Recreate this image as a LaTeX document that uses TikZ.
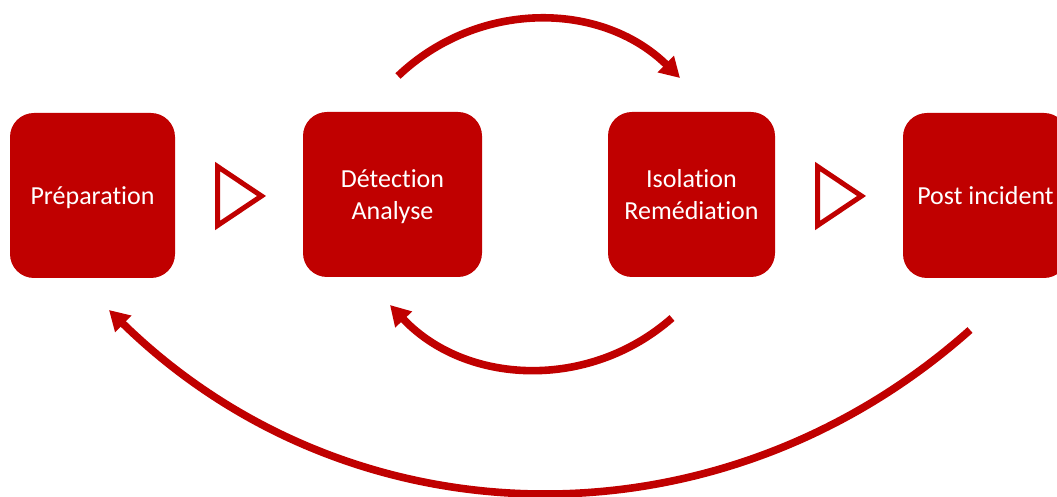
\documentclass[tikz,border=0pt]{standalone}
\usepackage{fontspec}
\setmainfont{Carlito}[Ligatures=NoCommon]
\usetikzlibrary{arrows.meta,shapes.geometric}
\definecolor{incred}{HTML}{C00000}
\tikzset{
  phase/.style={fill=incred, rounded corners=12pt, minimum height=82.5pt,
    inner sep=0pt, text depth=0pt, text=white, align=center,
    font=\fontsize{13}{16}\selectfont},
  nexttri/.style={draw=incred, line width=2.5pt, isosceles triangle,
    isosceles triangle stretches, shape border rotate=0, anchor=west,
    minimum width=29.5pt, minimum height=22pt, inner sep=0pt},
  cycleline/.style={draw=incred, line width=3.8pt,
    -{Triangle[length=10pt,width=11pt]}}
}
\begin{document}
\begin{tikzpicture}[x=0.5pt,y=-0.5pt]
  \clip (0,0) rectangle (1057,497);

  \node (prep) at (92.5,195.5) [phase, minimum width=82.5pt] {Préparation};
  \node (det) at (392.5,194.5) [phase, minimum width=89.5pt] {Détection\\Analyse};
  \node (iso) at (691.5,194.5) [phase, minimum width=83.5pt] {Isolation\\Remédiation};
  \node (post) at (985.5,195.5) [phase, minimum width=82.5pt] {Post incident};

  \node (tri1) at (215,196) [nexttri] {};
  \node (tri2) at (815,196) [nexttri] {};

  \coordinate (dtop) at (398,76);
  \coordinate (itop) at (680,78);
  \coordinate (ibot) at (672,318);
  \coordinate (dbot) at (390,305);
  \coordinate (pbot) at (970,330);
  \coordinate (pret) at (109,310);

  \draw[cycleline] (dtop) to[bend left=44] (itop);
  \draw[cycleline] (ibot) to[bend left=44] (dbot);
  \draw[cycleline] (pbot) to[bend left=43] (pret);
\end{tikzpicture}
\end{document}
